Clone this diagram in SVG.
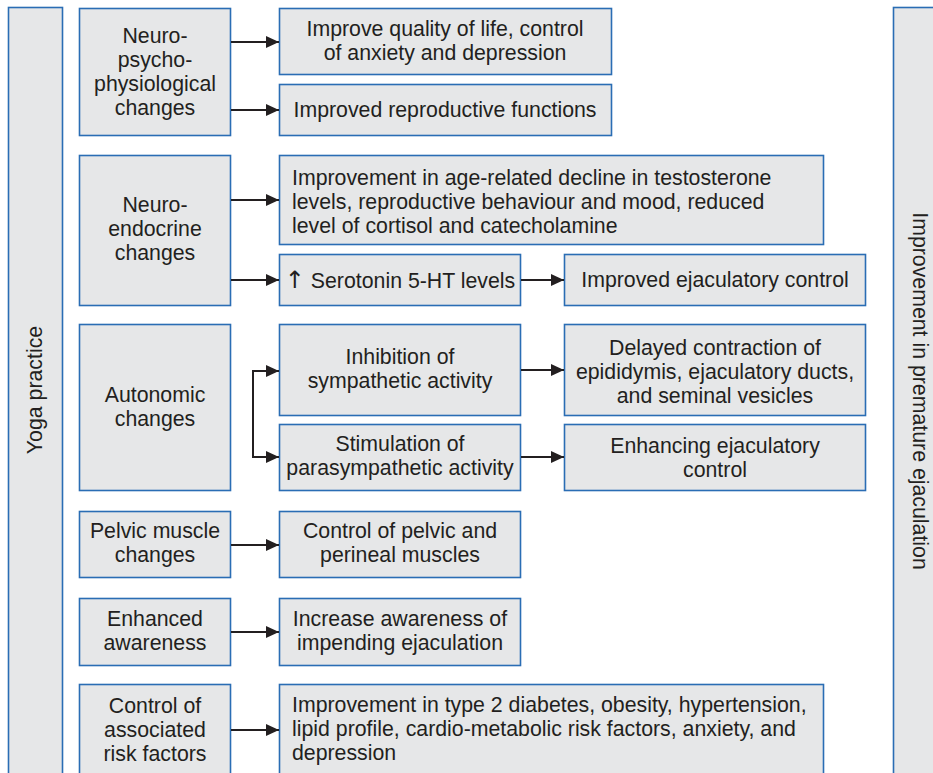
<svg xmlns="http://www.w3.org/2000/svg" width="933" height="773" viewBox="0 0 933 773">
<style>
.box{fill:#e6e7e8;stroke:#2a6db4;stroke-width:1.6}
text{font-family:"Liberation Sans",Arial,sans-serif;font-size:21.3px;fill:#231f20}
.c{text-anchor:middle}
.conn{stroke:#231f20;stroke-width:2;fill:none}
.arr{font-family:"DejaVu Sans",sans-serif;font-size:24px;fill:#231f20}
</style>
<defs>
<marker id="ah" markerWidth="14" markerHeight="12" refX="13" refY="6" orient="auto" markerUnits="userSpaceOnUse">
<path d="M0,0 L13,6 L0,12 Z" fill="#231f20"/>
</marker>
</defs>
<rect width="933" height="773" fill="#ffffff"/>

<g id="yoga">
<rect class="box" x="8.5" y="7.5" width="54" height="780"/>
<text class="c" transform="translate(42,390) rotate(-90)">Yoga practice</text>
</g>
<g id="outcome">
<rect class="box" x="893.5" y="7.5" width="60" height="780"/>
<text class="c" transform="translate(913,391) rotate(90)">Improvement in premature ejaculation</text>
</g>

<g id="npp">
<rect class="box" x="79.5" y="8.5" width="151" height="127"/>
<text class="c" x="155" y="43">Neuro-</text>
<text class="c" x="155" y="67">psycho-</text>
<text class="c" x="155" y="91">physiological</text>
<text class="c" x="155" y="115">changes</text>
</g>
<g id="qol">
<rect class="box" x="279.5" y="8.5" width="332" height="66"/>
<text class="c" x="445" y="36">Improve quality of life, control</text>
<text class="c" x="445" y="60">of anxiety and depression</text>
</g>
<g id="repro">
<rect class="box" x="279.5" y="84.5" width="332" height="51"/>
<text class="c" x="445" y="117">Improved reproductive functions</text>
</g>

<g id="neuroendo">
<rect class="box" x="79.5" y="155.5" width="151" height="150"/>
<text class="c" x="155" y="212">Neuro-</text>
<text class="c" x="155" y="236">endocrine</text>
<text class="c" x="155" y="260">changes</text>
</g>
<g id="testo">
<rect class="box" x="279.5" y="155.5" width="544" height="89"/>
<text x="292" y="185">Improvement in age-related decline in testosterone</text>
<text x="292" y="209">levels, reproductive behaviour and mood, reduced</text>
<text x="292" y="233">level of cortisol and catecholamine</text>
</g>
<g id="serotonin">
<rect class="box" x="279.5" y="254.5" width="241" height="51"/>
<text class="c" x="400" y="288"><tspan class="arr">↑</tspan> Serotonin 5-HT levels</text>
</g>
<g id="ejacctrl">
<rect class="box" x="564.5" y="254.5" width="301" height="51"/>
<text class="c" x="715" y="287">Improved ejaculatory control</text>
</g>

<g id="autonomic">
<rect class="box" x="79.5" y="324.5" width="151" height="166"/>
<text class="c" x="155" y="402">Autonomic</text>
<text class="c" x="155" y="426">changes</text>
</g>
<g id="inhib">
<rect class="box" x="279.5" y="324.5" width="241" height="91"/>
<text class="c" x="400" y="364">Inhibition of</text>
<text class="c" x="400" y="388">sympathetic activity</text>
</g>
<g id="delayed">
<rect class="box" x="564.5" y="324.5" width="301" height="91"/>
<text class="c" x="715" y="355">Delayed contraction of</text>
<text class="c" x="715" y="379">epididymis, ejaculatory ducts,</text>
<text class="c" x="715" y="403">and seminal vesicles</text>
</g>
<g id="stim">
<rect class="box" x="279.5" y="424.5" width="241" height="66"/>
<text class="c" x="400" y="451">Stimulation of</text>
<text class="c" x="400" y="475">parasympathetic activity</text>
</g>
<g id="enhancing">
<rect class="box" x="564.5" y="424.5" width="301" height="66"/>
<text class="c" x="715" y="453">Enhancing ejaculatory</text>
<text class="c" x="715" y="477">control</text>
</g>

<g id="pelvic">
<rect class="box" x="79.5" y="511.5" width="151" height="66"/>
<text class="c" x="155" y="538">Pelvic muscle</text>
<text class="c" x="155" y="562">changes</text>
</g>
<g id="pelvicctrl">
<rect class="box" x="279.5" y="511.5" width="241" height="66"/>
<text class="c" x="400" y="538">Control of pelvic and</text>
<text class="c" x="400" y="562">perineal muscles</text>
</g>

<g id="awareness">
<rect class="box" x="79.5" y="598.5" width="151" height="67"/>
<text class="c" x="155" y="626">Enhanced</text>
<text class="c" x="155" y="650">awareness</text>
</g>
<g id="impending">
<rect class="box" x="279.5" y="598.5" width="241" height="67"/>
<text class="c" x="400" y="626">Increase awareness of</text>
<text class="c" x="400" y="650">impending ejaculation</text>
</g>

<g id="risk">
<rect class="box" x="79.5" y="684.5" width="151" height="100"/>
<text class="c" x="155" y="713">Control of</text>
<text class="c" x="155" y="737">associated</text>
<text class="c" x="155" y="761">risk factors</text>
</g>
<g id="diabetes">
<rect class="box" x="279.5" y="684.5" width="544" height="100"/>
<text x="292" y="712">Improvement in type 2 diabetes, obesity, hypertension,</text>
<text x="292" y="736">lipid profile, cardio-metabolic risk factors, anxiety, and</text>
<text x="292" y="760">depression</text>
</g>

<g id="connectors">
<path class="conn" marker-end="url(#ah)" d="M231,42 H279"/>
<path class="conn" marker-end="url(#ah)" d="M231,110 H279"/>
<path class="conn" marker-end="url(#ah)" d="M231,200 H279"/>
<path class="conn" marker-end="url(#ah)" d="M231,280 H279"/>
<path class="conn" marker-end="url(#ah)" d="M521,280 H564"/>
<path class="conn" d="M253,371 V457"/>
<path class="conn" marker-end="url(#ah)" d="M252,371 H279"/>
<path class="conn" marker-end="url(#ah)" d="M252,457 H279"/>
<path class="conn" marker-end="url(#ah)" d="M521,370 H564"/>
<path class="conn" marker-end="url(#ah)" d="M521,457 H564"/>
<path class="conn" marker-end="url(#ah)" d="M231,545 H279"/>
<path class="conn" marker-end="url(#ah)" d="M231,632 H279"/>
<path class="conn" marker-end="url(#ah)" d="M231,730 H279"/>
</g>
</svg>
